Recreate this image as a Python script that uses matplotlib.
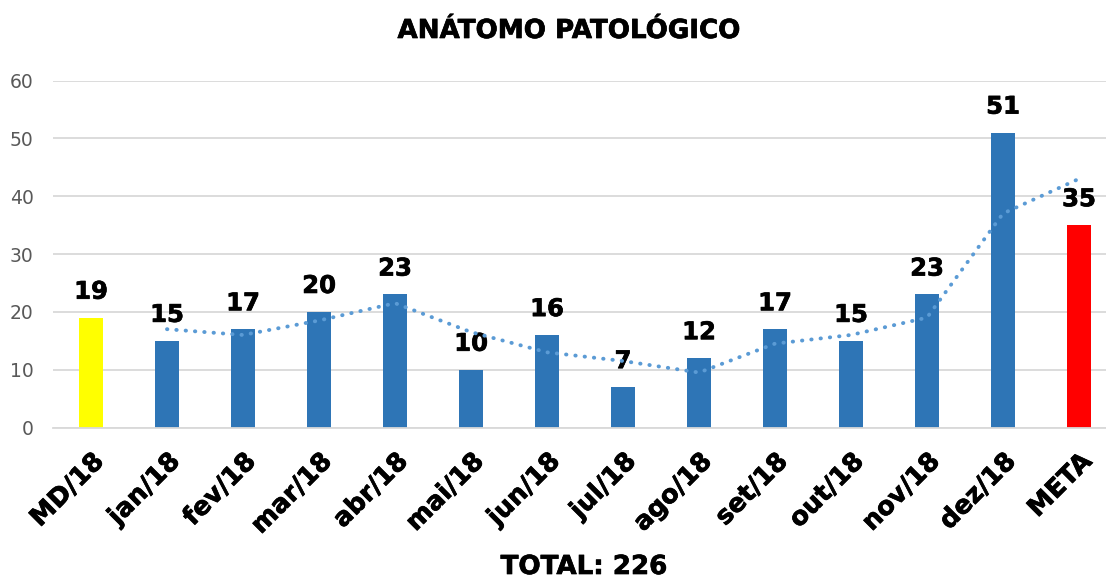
import numpy as np
import matplotlib
matplotlib.use("Agg")
import matplotlib.pyplot as plt
import matplotlib.patheffects as pe

plt.rcParams["font.family"] = ["DejaVu Sans"]

# Monthly counts for the pathology exams, plus the opening balance and the target
categories = ["MD/18", "jan/18", "fev/18", "mar/18", "abr/18", "mai/18", "jun/18",
              "jul/18", "ago/18", "set/18", "out/18", "nov/18", "dez/18", "META"]
values = [19, 15, 17, 20, 23, 10, 16, 7, 12, 17, 15, 23, 51, 35]
bar_colors = ["#FFFF00"] + ["#2E75B6"] * 12 + ["#FF0000"]
yticks = [0, 10, 20, 30, 40, 50, 60]
total_label = "TOTAL: 226"
title = "ANÁTOMO PATOLÓGICO"

# slightly heavier strokes for the bold black text
heavy = [pe.withStroke(linewidth=0.5, foreground="black")]


def main():
    fig = plt.figure(figsize=(11.06, 5.80), dpi=100)
    # axes spans a bit past the right edge of the figure
    ax = fig.add_axes([53 / 1106, 1 - 427.5 / 580, 1064 / 1106, 347 / 580])

    x = np.arange(len(categories))
    ax.bar(x, values, width=0.31, color=bar_colors, zorder=2)

    # value labels on top of each bar
    for xi, v in zip(x, values):
        ax.annotate(str(v), (xi, v), xytext=(0, 10), textcoords="offset points",
                    ha="center", va="bottom", fontsize=17.5, fontweight="bold",
                    color="black", path_effects=heavy)

    # 2-period moving average trendline
    trend = np.convolve(values, [0.5, 0.5], mode="valid")
    ax.plot(x[1:], trend, linestyle=(0, (0.1, 2.3)), dash_capstyle="round",
            color="#5B9BD5", linewidth=2.8, zorder=3)

    ax.set_xlim(-0.5, len(categories) - 0.5)
    ax.set_ylim(0, 60)
    ax.set_yticks(yticks)
    ax.yaxis.grid(True, color="#D9D9D9", linewidth=1.3)
    ax.set_axisbelow(True)
    for side in ["top", "right", "left"]:
        ax.spines[side].set_visible(False)
    ax.spines["bottom"].set_color("#D9D9D9")
    ax.spines["bottom"].set_linewidth(1.3)
    ax.tick_params(axis="both", length=0)
    ax.tick_params(axis="y", labelsize=13.5, labelcolor="#595959", pad=14)

    ax.set_xticks(x)
    ax.set_xticklabels(categories, rotation=45, ha="right", rotation_mode="anchor",
                       fontsize=18.5, fontweight="bold")
    for lbl in ax.get_xticklabels():
        lbl.set_path_effects(heavy)
    ax.tick_params(axis="x", pad=15)

    fig.text(569 / 1106, 1 - 31 / 580, title, ha="center", va="center",
             fontsize=18.8, fontweight="bold", path_effects=heavy)
    fig.text(584 / 1106, 1 - 567 / 580, total_label, ha="center", va="center",
             fontsize=18.8, fontweight="bold", path_effects=heavy)

    fig.savefig("out.png", dpi=100)


if __name__ == "__main__":
    main()
